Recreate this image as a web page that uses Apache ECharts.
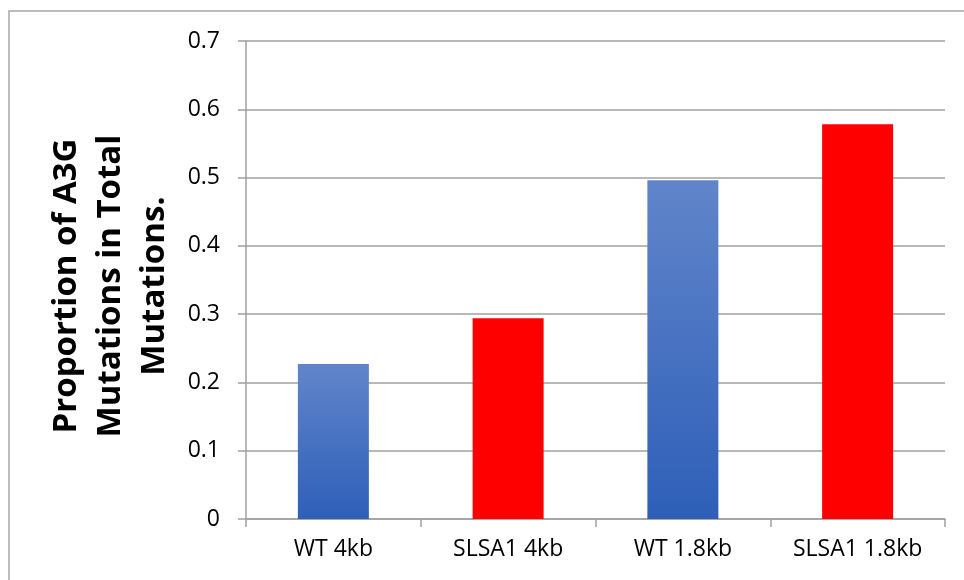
<!DOCTYPE html>
<html>
<head>
<meta charset="utf-8">
<script src="https://cdn.jsdelivr.net/npm/echarts@6/dist/echarts.min.js"></script>
<style>
  html, body { margin: 0; padding: 0; background: #fff; }
  #chart { width: 964px; height: 580px; }
</style>
</head>
<body>
<div id="chart"></div>
<script>
// Sample groups along the x axis
const categories = ['WT 4kb', 'SLSA1 4kb', 'WT 1.8kb', 'SLSA1 1.8kb'];
// Proportion of A3G mutations among all mutations
const proportions = [0.227, 0.294, 0.496, 0.578];
// Y axis range and step
const yTicks = { min: 0, max: 0.7, interval: 0.1 };

const axisGray = '#a0a0a0';
const fontFamily = '"Open Sans", "Liberation Sans", sans-serif';

const blueFill = new echarts.graphic.LinearGradient(0, 0, 0, 1, [
  { offset: 0, color: '#6185ca' },
  { offset: 1, color: '#2e5fb8' }
]);
const redFill = '#ff0000';

const chart = echarts.init(document.getElementById('chart'));
chart.setOption({
  animation: false,
  backgroundColor: '#ffffff',
  grid: { left: 246, right: 19, top: 41, bottom: 61 },
  graphic: [{
    type: 'rect',
    silent: true,
    shape: { x: 9, y: 11, width: 1000, height: 620 },
    style: { fill: 'none', stroke: '#a8a8a8', lineWidth: 1.5 }
  }],
  xAxis: {
    type: 'category',
    data: categories,
    axisLine: { lineStyle: { color: axisGray, width: 1.5 } },
    axisTick: { show: true, length: 8, lineStyle: { color: axisGray, width: 1.5 } },
    axisLabel: { color: '#000', fontSize: 23, fontFamily: fontFamily, margin: 19 }
  },
  yAxis: {
    type: 'value',
    min: yTicks.min,
    max: yTicks.max,
    interval: yTicks.interval,
    name: 'Proportion of A3G\nMutations in Total\nMutations.',
    nameLocation: 'middle',
    nameRotate: 90,
    nameGap: 66,
    nameTextStyle: {
      color: '#000', fontSize: 33, fontWeight: 'bold',
      fontFamily: fontFamily, lineHeight: 44, align: 'center',
      padding: [0, 12, 0, 0]
    },
    axisLine: { show: true, lineStyle: { color: axisGray, width: 1.5 } },
    axisTick: { show: true, length: 8, lineStyle: { color: axisGray, width: 1.5 } },
    splitLine: { show: true, lineStyle: { color: axisGray, width: 1.5 } },
    axisLabel: {
      color: '#000', fontSize: 23, fontFamily: fontFamily, margin: 26,
      formatter: v => (v === 0 ? '0' : v.toFixed(1))
    }
  },
  series: [{
    type: 'bar',
    data: proportions,
    barWidth: 71,
    itemStyle: {
      color: p => (p.name.startsWith('WT') ? blueFill : redFill)
    }
  }]
});
</script>
</body>
</html>
